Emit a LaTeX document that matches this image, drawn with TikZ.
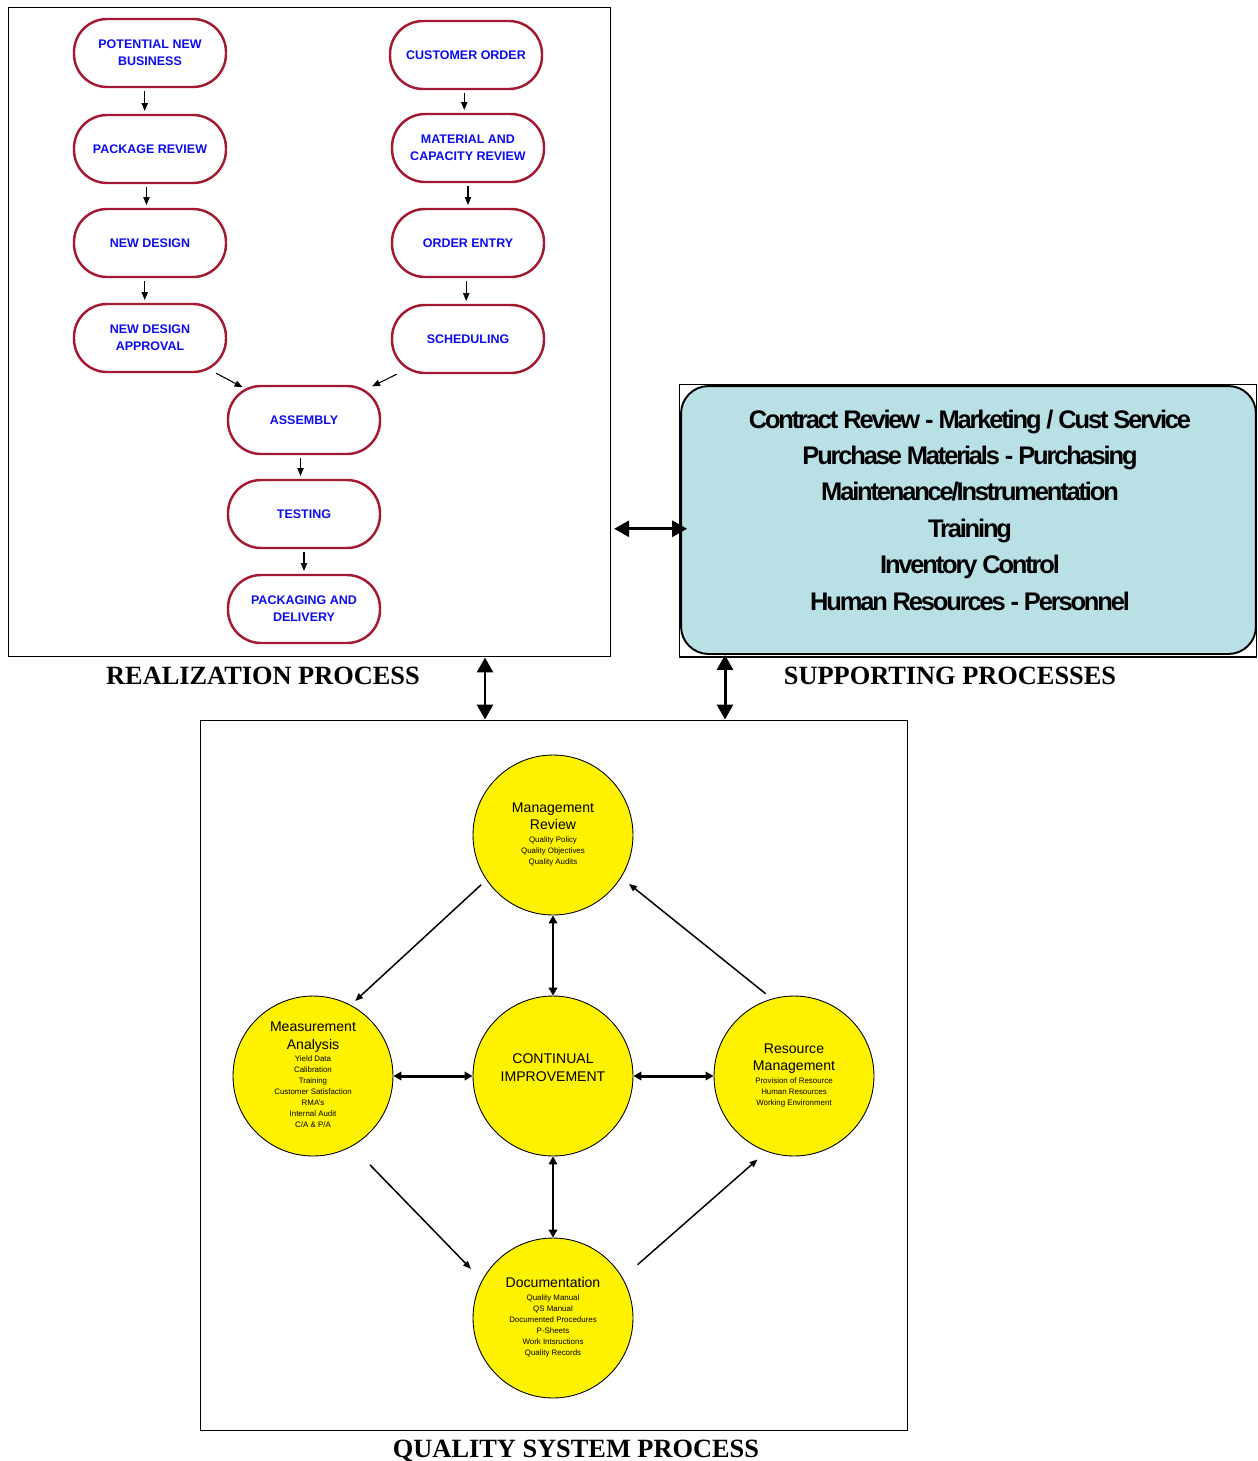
\documentclass[tikz,border=0pt]{standalone}
\usepackage{fontspec}
\setmainfont{Liberation Sans}
\newfontfamily\headfont{Liberation Serif}
\newfontfamily\tightfont[LetterSpace=-8.5]{Liberation Sans}
\usetikzlibrary{arrows.meta}

\definecolor{boxred}{RGB}{165,25,50}
\definecolor{flowblue}{RGB}{12,12,240}
\definecolor{supportcyan}{RGB}{185,224,228}

% small lines inside the circles
\newcommand\minor[1]{{\fontsize{4.5}{6.2}\selectfont
  \begin{tabular}[t]{@{}c@{}}#1\end{tabular}}}

\tikzset{
  flow/.style={draw=boxred, line width=1.4pt, rounded corners=0.66cm,
    minimum width=3.04cm, minimum height=1.36cm, align=center,
    text=flowblue, font=\fontsize{7.1}{9.8}\selectfont\bfseries},
  flowarrow/.style={-{Triangle[length=4.5pt,width=3.6pt]}, line width=0.6pt,
    shorten <=1.6pt, shorten >=1.6pt},
  areabox/.style={draw, line width=0.6pt, inner sep=0},
  heading/.style={anchor=base, font=\headfont\bfseries\fontsize{15}{18}\selectfont},
  disc/.style={circle, draw, fill=yellow, line width=0.5pt, minimum size=3.2cm,
    inner sep=0, align=center, font=\fontsize{8}{10.2}\selectfont},
  linkarrow/.style={{Triangle[length=8.5pt,width=9pt]}-{Triangle[length=8.5pt,width=9pt]},
    line width=1.7pt},
  corearrow/.style={{Triangle[length=4.5pt,width=4.8pt]}-{Triangle[length=4.5pt,width=4.8pt]},
    line width=1.7pt},
  cyclearrow/.style={-{Triangle[length=4.5pt,width=3.6pt]}, line width=0.85pt},
}

\begin{document}
\begin{tikzpicture}[x=0.02cm, y=-0.02cm]
  \useasboundingbox (0,0) rectangle (1258,1461);

  % the three areas
  \node[areabox, minimum width=12.06cm, minimum height=13cm] (realbox) at (309.5,332) {};
  \node[areabox, minimum width=11.56cm, minimum height=5.46cm] (suppbox) at (968,520.5) {};
  \node[areabox, minimum width=14.16cm, minimum height=14.22cm] (qualbox) at (554,1075.5) {};

  \node[heading] (realhead) at (263,684) {REALIZATION PROCESS};
  \node[heading] (supphead) at (950,684) {SUPPORTING PROCESSES};
  \node[heading] (qualhead) at (576,1457) {QUALITY SYSTEM PROCESS};

  % realization flow
  \node[flow] (newbiz) at (150,53) {POTENTIAL NEW\\BUSINESS};
  \node[flow] (pkgrev) at (150,149) {PACKAGE REVIEW};
  \node[flow] (newdes) at (150,243) {NEW DESIGN};
  \node[flow] (desapp) at (150,338) {NEW DESIGN\\APPROVAL};
  \node[flow] (custord) at (466,55) {CUSTOMER ORDER};
  \node[flow] (matcap) at (468,148) {MATERIAL AND\\CAPACITY REVIEW};
  \node[flow] (ordent) at (468,243) {ORDER ENTRY};
  \node[flow] (sched) at (468,339) {SCHEDULING};
  \node[flow] (assy) at (304,420) {ASSEMBLY};
  \node[flow] (test) at (304,514) {TESTING};
  \node[flow] (packdel) at (304,609) {PACKAGING AND\\DELIVERY};

  \draw[flowarrow] ([xshift=-3pt]newbiz.south) -- ([xshift=-3pt]pkgrev.north);
  \draw[flowarrow] ([xshift=-2pt]pkgrev.south) -- ([xshift=-2pt]newdes.north);
  \draw[flowarrow] ([xshift=-3pt]newdes.south) -- ([xshift=-3pt]desapp.north);
  \draw[flowarrow] ([xshift=-1pt]custord.south) -- ([xshift=-1pt]custord.south |- matcap.north);
  \draw[flowarrow] (matcap) -- (ordent);
  \draw[flowarrow] ([xshift=-1pt]ordent.south) -- ([xshift=-1pt]sched.north);
  \draw[flowarrow, shorten <=0pt, shorten >=-3pt] (desapp) -- (assy);
  \draw[flowarrow, shorten <=0pt, shorten >=-2pt] (sched) -- (assy);
  \draw[flowarrow] ([xshift=-2pt]assy.south) -- ([xshift=-2pt]test.north);
  \draw[flowarrow] (test) -- (packdel);

  % supporting processes
  \node[draw, fill=supportcyan, line width=1.1pt, rounded corners=0.55cm,
    minimum width=11.5cm, minimum height=5.36cm] (supp) at (968.5,520) {};
  \node[align=center, font=\tightfont\bfseries\fontsize{14.5}{20.7}\selectfont] (supptext) at (970,510)
    {Contract Review - Marketing / Cust Service\\Purchase Materials - Purchasing\\
     Maintenance/Instrumentation\\Training\\Inventory Control\\Human Resources - Personnel};

  \draw[linkarrow, shorten <=1.5pt, shorten >=-4pt] ([yshift=-5pt]supp.west -| realbox.east) -- ([yshift=-5pt]supp.west);
  \draw[linkarrow] (realbox.south -| 485,0) -- (qualbox.north -| 485,0);
  \draw[linkarrow] (supp.south -| 725,0) -- (qualbox.north -| 725,0);

  % quality system
  \node[disc] (mgmt) at (553,835) {Management\\Review\\[-3pt]\minor{Quality Policy\\Quality Objectives\\Quality Audits}};
  \node[disc] (meas) at (313,1076) {Measurement\\Analysis\\[-3pt]\minor{Yield Data\\Calibration\\Training\\Customer Satisfaction\\RMA's\\Internal Audit\\C/A \& P/A}};
  \node[disc, label={[yshift=5pt, align=center, font=\fontsize{8}{10.2}\selectfont]center:CONTINUAL\\IMPROVEMENT}] (contimp) at (553,1076) {};
  \node[disc] (resmgmt) at (794,1076) {Resource\\Management\\[-3pt]\minor{Provision of Resource\\Human Resources\\Working Environment}};
  \node[disc] (docu) at (553,1318) {Documentation\\[-3pt]\minor{Quality Manual\\QS Manual\\Documented Procedures\\P-Sheets\\Work Intsructions\\Quality Records}};

  \draw[corearrow] (mgmt) -- (contimp);
  \draw[corearrow] (meas) -- (contimp);
  \draw[corearrow] (resmgmt) -- (contimp);
  \draw[corearrow] (docu) -- (contimp);

  \draw[cyclearrow, shorten <=4pt, shorten >=3.4pt] (mgmt.214) -- (meas.62);
  \draw[cyclearrow, shorten <=14.7pt, shorten >=9pt] (meas.299) -- (docu.152);
  \draw[cyclearrow, shorten <=11.3pt, shorten >=6.8pt] (docu.30) -- (resmgmt.250);
  \draw[cyclearrow, shorten <=4.5pt, shorten >=5.7pt] (resmgmt.106) -- (mgmt.328);
\end{tikzpicture}
\end{document}
